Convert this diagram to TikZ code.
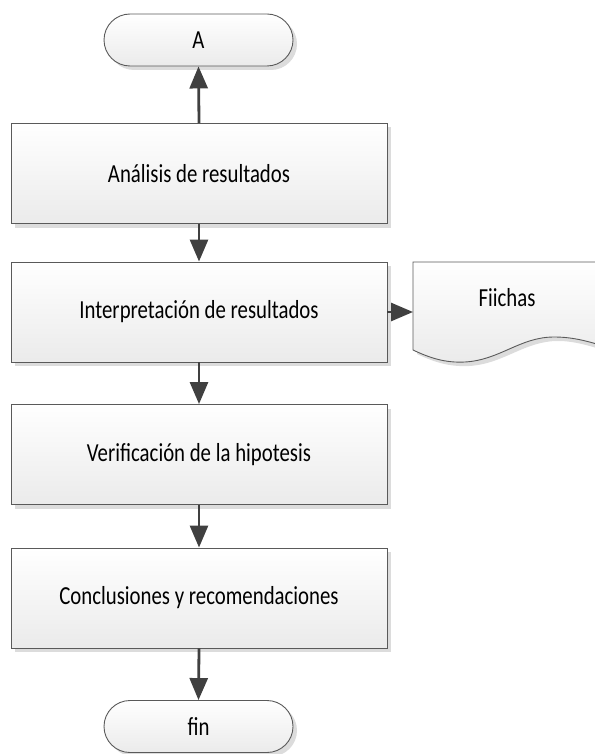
\documentclass[tikz,border=0pt]{standalone}
\usepackage{fontspec}
\setmainfont{Carlito}[FakeStretch=0.8]
\usetikzlibrary{shadows,arrows.meta}
\definecolor{arrowc}{HTML}{404040}
\definecolor{linec}{HTML}{5A5A5A}
\definecolor{shadowc}{HTML}{DCDCDC}
\tikzset{
  txt/.style={font=\fontsize{26}{28}\selectfont},
  procbox/.style={draw=linec, line width=0.9pt, top color=white, bottom color=black!8,
    minimum width=376pt, minimum height=100pt, inner sep=0pt, txt,
    drop shadow={shadow xshift=4pt, shadow yshift=-4pt, fill=shadowc, opacity=1}},
  termbox/.style={draw=linec, line width=0.9pt, top color=white, bottom color=black!8,
    minimum width=189pt, minimum height=52pt, rounded corners=26pt, inner sep=0pt, txt,
    drop shadow={shadow xshift=4pt, shadow yshift=-4pt, fill=shadowc, opacity=1}},
  flow/.style={draw=arrowc, line width=2.8pt, -{Triangle[length=22pt,width=18pt]}, fill=arrowc}
}
\begin{document}
\begin{tikzpicture}[x=1pt,y=-1pt]
\useasboundingbox (0,0) rectangle (594,754);
\node[termbox] (A) at (198.5,40) {A};
\node[procbox] (b1) at (199,173.5) {Análisis de resultados};
\node[procbox] (b2) at (199,312) {Interpretación de resultados};
\node[procbox] (b3) at (199,454.5) {Verificación de la hipotesis};
\node[procbox] (b4) at (199,598) {Conclusiones y recomendaciones};
\node[termbox] (fin) at (198.5,726.5) {fin};
% document shape
\fill[shadowc] (417,266) -- (610,266) -- (610,352) .. controls (590,346) and (575,341) .. (558,341)
  .. controls (524,341) and (504,364) .. (469,366) .. controls (449,367) and (434,362) .. (417,354) -- cycle;
\draw[linec, line width=0.9pt, top color=white, bottom color=black!8]
  (413,350) -- (413,262) -- (610,262) -- (610,348)
  .. controls (590,342) and (575,337) .. (554,337)
  .. controls (520,337) and (500,360) .. (465,362)
  .. controls (445,363) and (430,358) .. (413,350) -- cycle;
\node[txt] (fichas) at (507,298) {Fiichas};
\coordinate (docl) at (413,312);
% arrows
\draw[flow] (b1.north) -- (A.south);
\draw[flow] (b1.south) -- (b2.north);
\draw[flow] (b2.east) -- (docl);
\draw[flow] (b2.south) -- (b3.north);
\draw[flow] (b3.south) -- (b4.north);
\draw[flow] (b4.south) -- (fin.north);
\end{tikzpicture}
\end{document}
